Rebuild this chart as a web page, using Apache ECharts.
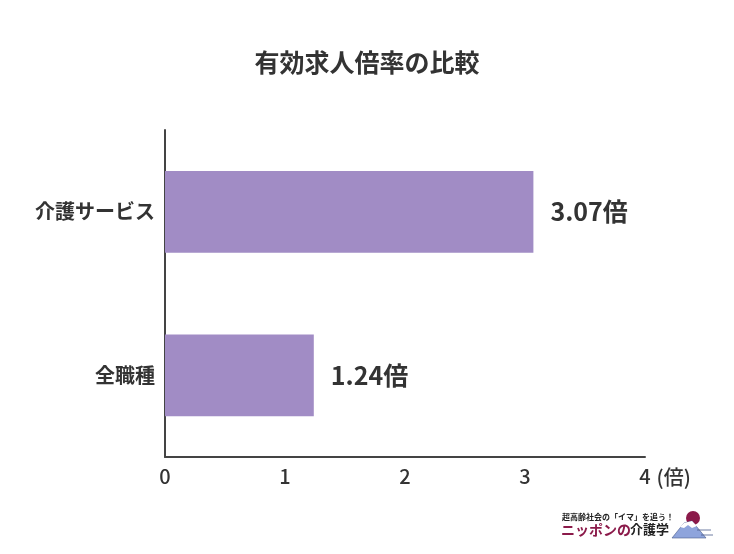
<!DOCTYPE html>
<html>
<head>
<meta charset="utf-8">
<script src="https://cdn.jsdelivr.net/npm/echarts@6/dist/echarts.min.js"></script>
<style>
  html, body { margin: 0; padding: 0; background: #fff; }
  #chart { width: 734px; height: 554px; }
</style>
</head>
<body>
<div id="chart"></div>
<script>
// data
const categories = ['介護サービス', '全職種']
const ratios = [3.07, 1.24]
const xTicks = [0, 1, 2, 3, 4]

const FONT = '"Noto Sans CJK JP", "Noto Sans", sans-serif'
const chart = echarts.init(document.getElementById('chart'))

const option = {
  backgroundColor: '#fff',
  animation: false,
  title: {
    text: '有効求人倍率の比較',
    left: 'center',
    top: 45,
    textStyle: { fontFamily: FONT, fontSize: 25, fontWeight: 'bold', color: '#333' }
  },
  grid: { left: 165, right: 89, top: 130, bottom: 97 },
  xAxis: {
    type: 'value',
    min: xTicks[0],
    max: xTicks[xTicks.length - 1],
    interval: 1,
    name: '(倍)',
    nameLocation: 'end',
    nameGap: 11,
    nameTextStyle: { fontFamily: FONT, fontSize: 20, fontWeight: 500, color: '#333', verticalAlign: 'top', padding: [10, 0, 0, 0] },
    axisLine: { show: true, lineStyle: { color: '#444', width: 2 } },
    axisTick: { show: false },
    splitLine: { show: false },
    axisLabel: { fontFamily: FONT, fontSize: 20, fontWeight: 500, color: '#333', margin: 9 }
  },
  yAxis: {
    type: 'category',
    data: categories,
    inverse: true,
    axisLine: { show: true, lineStyle: { color: '#444', width: 2 } },
    axisTick: { show: false },
    axisLabel: { fontFamily: FONT, fontSize: 20, fontWeight: 'bold', color: '#333', margin: 10 }
  },
  series: [{
    type: 'bar',
    data: ratios,
    barWidth: '50%',
    itemStyle: { color: '#a18cc5' },
    label: {
      show: true,
      position: 'right',
      distance: 17,
      formatter: p => p.value.toFixed(2) + '倍',
      fontFamily: FONT,
      fontSize: 25,
      fontWeight: 'bold',
      color: '#333'
    }
  }],
  graphic: [
    { type: 'text', left: 562, top: 513, style: { text: '超高齢社会の「イマ」を追う！', font: 'bold 8px ' + FONT, fill: '#222' } },
    { type: 'text', left: 561, top: 523, style: { text: 'ニッポンの', font: 'bold 14px ' + FONT, fill: '#8b1a4a' } },
    { type: 'text', left: 630, top: 523, style: { text: '介護学', font: 'bold 13px ' + FONT, fill: '#222' } },
    { type: 'circle', shape: { cx: 693, cy: 518, r: 7 }, style: { fill: '#8b1a4a' } },
    { type: 'polygon', shape: { points: [[672, 538], [684, 523], [692, 521], [706, 538]] }, style: { fill: '#8ea4dc', stroke: '#4a5a8a', lineWidth: 0.6 } },
    { type: 'polygon', shape: { points: [[680, 527], [684, 523], [692, 521], [697, 526], [692, 528], [688, 525], [684, 528]] }, style: { fill: '#fff' } },
    { type: 'line', shape: { x1: 697, y1: 530, x2: 711, y2: 530 }, style: { stroke: '#4a5a8a', lineWidth: 0.8 } },
    { type: 'line', shape: { x1: 701, y1: 535, x2: 713, y2: 535 }, style: { stroke: '#4a5a8a', lineWidth: 0.8 } }
  ]
}

chart.setOption(option)
</script>
</body>
</html>
